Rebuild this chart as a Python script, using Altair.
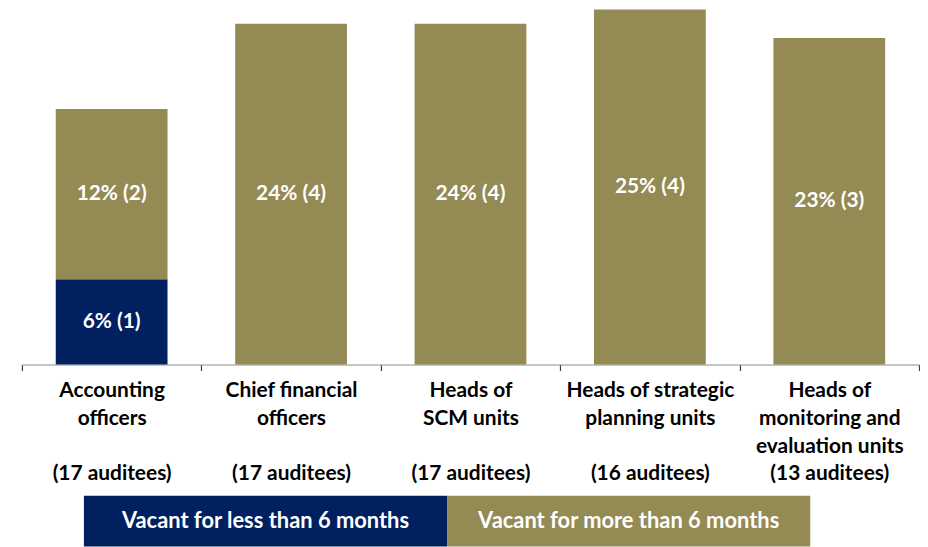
import altair as alt
import pandas as pd

# ---- data ----
names = [
    ["Accounting", "officers"],
    ["Chief financial", "officers"],
    ["Heads of", "SCM units"],
    ["Heads of strategic", "planning units"],
    ["Heads of", "monitoring and", "evaluation units"],
]
auditees = [17, 17, 17, 16, 13]
less_pct = [6, 0, 0, 0, 0]
less_n = [1, 0, 0, 0, 0]
more_pct = [12, 24, 24, 25, 23]
more_n = [2, 4, 4, 4, 3]
series = ["Vacant for less than 6 months", "Vacant for more than 6 months"]
colors = ["#002060", "#948A54"]

FONT = "Lato"
FS = 21

cats = []
for nm, a in zip(names, auditees):
    lines = list(nm) + ["\u200b"] * (3 - len(nm)) + [f"({a} auditees)"]
    cats.append("|".join(lines))

rows = []
for i, c in enumerate(cats):
    if less_pct[i] > 0:
        rows.append({"cat": c, "series": series[0], "ord": 0, "value": less_pct[i],
                     "label": f"{less_pct[i]}% ({less_n[i]})"})
    if more_pct[i] > 0:
        rows.append({"cat": c, "series": series[1], "ord": 1, "value": more_pct[i],
                     "label": f"{more_pct[i]}% ({more_n[i]})"})
df = pd.DataFrame(rows)

color_scale = alt.Scale(domain=series, range=colors)
xscale = alt.Scale(domain=cats, paddingInner=0, paddingOuter=0)
yscale = alt.Scale(domain=[0, 25], nice=False)

xaxis = alt.Axis(labelExpr="split(datum.label, '|')", labelAngle=0,
                 labelFont=FONT, labelFontSize=FS, labelFontWeight="bold",
                 labelColor="#000000", labelLineHeight=28, labelLimit=400,
                 labelOverlap=False, labelPadding=9,
                 tickBand="extent", tickSize=6,
                 tickColor="#404040", tickWidth=1.2, ticks=True,
                 domainColor="#8c8c8c", labelBaseline="top")

base = alt.Chart(df).transform_stack(
    stack="value", groupby=["cat"], as_=["y0", "y1"],
    sort=[alt.SortField("ord", order="ascending")]
).transform_calculate(mid="(datum.y0 + datum.y1) / 2")

bars = base.mark_bar(width=alt.RelativeBandSize(0.623)).encode(
    x=alt.X("cat:N", scale=xscale, sort=cats, title=None, axis=xaxis),
    y=alt.Y("y1:Q", scale=yscale, axis=None),
    y2="y0:Q",
    color=alt.Color("series:N", scale=color_scale, legend=None),
)
texts = base.mark_text(color="white", font=FONT, fontSize=FS, fontWeight="bold",
                       baseline="middle").encode(
    x=alt.X("cat:N", scale=xscale, sort=cats, title=None, axis=xaxis),
    y=alt.Y("mid:Q", scale=yscale, axis=None),
    text="label:N",
)
main = alt.layer(bars, texts).properties(width=902, height=357)

leg_df = pd.DataFrame({"series": series})
lx = alt.X("series:N", sort=series, axis=None,
           scale=alt.Scale(domain=series, paddingInner=0, paddingOuter=0.1707))
leg_bars = alt.Chart(leg_df).mark_bar().encode(
    x=lx, color=alt.Color("series:N", scale=color_scale, legend=None))
leg_text = alt.Chart(leg_df).mark_text(color="white", font=FONT, fontSize=22,
                                       fontWeight="bold", baseline="middle").encode(
    x=lx, text="series:N")
legend = alt.layer(leg_bars, leg_text).properties(width=855, height=51)

chart = alt.vconcat(main, legend, spacing=12).properties(
    padding={"left": 13, "top": 0, "right": 0, "bottom": 0},
    background="white",
).configure_view(stroke=None)

chart.save("out.html", embed_options={"renderer": "svg", "actions": False})
